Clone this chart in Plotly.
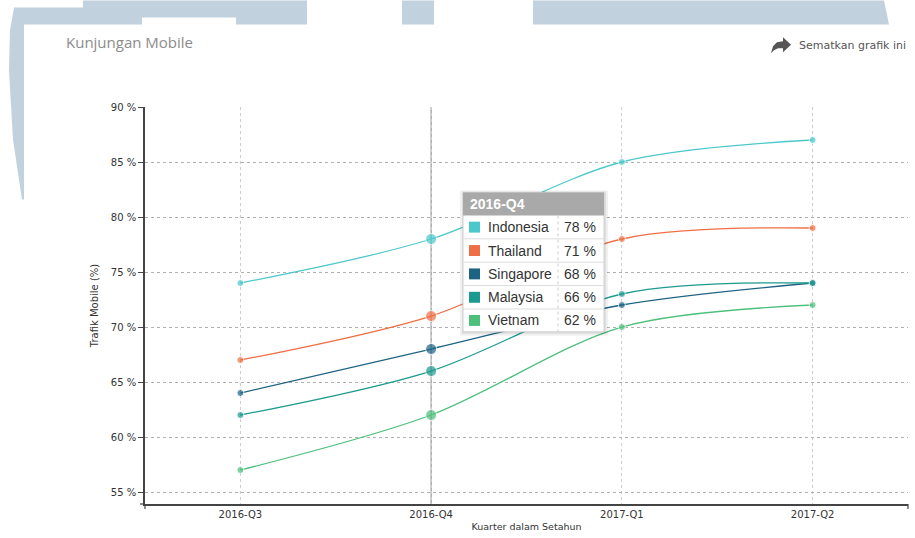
import plotly.graph_objects as go

# ---------------- data ----------------
quarters = ["2016-Q3", "2016-Q4", "2017-Q1", "2017-Q2"]
countries = ["Indonesia", "Thailand", "Singapore", "Malaysia", "Vietnam"]
indonesia = [74, 78, 85, 87]
thailand = [67, 71, 78, 79]
singapore = [64, 68, 72, 74]
malaysia = [62, 66, 73, 74]
vietnam = [57, 62, 70, 72]
series = [indonesia, thailand, singapore, malaysia, vietnam]
colors = ["#4cc8cc", "#f06e45", "#1d6383", "#1b9b8f", "#4dc07c"]
y_ticks = [55, 60, 65, 70, 75, 80, 85, 90]
hover_idx = 1  # highlighted quarter (2016-Q4)

# ---------------- geometry helpers ----------------
W, H = 915, 538
L, R, T, B = 145, 7, 107, 32
PW, PH = W - L - R, H - T - B


def px(x):
    return (x - L) / PW


def py(y):
    return 1 - (y - T) / PH


fig = go.Figure()

for name, vals, col in zip(countries, series, colors):
    sizes = [11 if i == hover_idx else 7 for i in range(len(vals))]
    fig.add_trace(go.Scatter(
        x=quarters, y=vals, name=name, mode="lines+markers",
        line=dict(color=col, width=1.3, shape="spline", smoothing=0.9),
        marker=dict(color=col, size=sizes),
        hoverinfo="skip", showlegend=False,
    ))

shapes = []
annotations = []

# ---------- background watermark shapes ----------
wm = "#c1d1de"


def poly(points, color):
    d = "M " + " L ".join(f"{px(x):.5f},{py(y):.5f}" for x, y in points) + " Z"
    return dict(type="path", path=d, xref="paper", yref="paper",
                fillcolor=color, line=dict(width=0), layer="below")


shapes.append(poly([(14, 7), (83, 7), (83, 0), (307, 0), (307, 24), (236, 24),
                    (236, 17), (142, 17), (142, 24), (24, 24), (24, 200),
                    (22, 200), (13, 140), (9, 70), (10, 30)], wm))
shapes.append(poly([(402, 0), (434, 0), (434, 24), (402, 24)], wm))
shapes.append(poly([(533, 0), (884, 0), (889, 24), (533, 24)], wm))

# share arrow icon
arrow = [(771, 53), (773, 46), (777, 42), (783, 41), (783, 37), (791, 44.5),
         (783, 52), (783, 48), (778, 48), (774, 50)]
shapes.append(poly(arrow, "#555555"))

# crosshair at hovered quarter (below the series)
shapes.append(dict(type="line", xref="x", yref="paper", x0=hover_idx, x1=hover_idx,
                   y0=0, y1=1, line=dict(color="#808080", width=1), layer="below"))

# domain end ticks
for xx in (145, 908):
    shapes.append(dict(type="line", xref="paper", yref="paper", x0=px(xx), x1=px(xx),
                       y0=py(506), y1=py(511), line=dict(color="#444", width=1.2)))
shapes.append(dict(type="line", xref="paper", yref="paper", x0=px(140), x1=px(145),
                   y0=py(506), y1=py(506), line=dict(color="#444", width=1.2)))

# ---------- tooltip ----------
tx0, tx1, ty0, ty1 = 463, 604, 193, 333
head_b = 216
row_edges = [216, 239.5, 263, 286.5, 310, 333]
shapes.append(dict(type="rect", xref="paper", yref="paper", x0=px(tx0 - 3), x1=px(tx1 + 4),
                   y0=py(ty0 - 2), y1=py(ty1 + 4), fillcolor="rgba(0,0,0,0.06)",
                   line=dict(width=0)))
shapes.append(dict(type="rect", xref="paper", yref="paper", x0=px(tx0 - 1), x1=px(tx1 + 2),
                   y0=py(ty0 - 1), y1=py(ty1 + 2), fillcolor="rgba(0,0,0,0.07)",
                   line=dict(width=0)))
shapes.append(dict(type="rect", xref="paper", yref="paper", x0=px(tx0), x1=px(tx1),
                   y0=py(ty0), y1=py(ty1), fillcolor="white",
                   line=dict(color="#d0d0d0", width=1)))
shapes.append(dict(type="rect", xref="paper", yref="paper", x0=px(tx0), x1=px(tx1),
                   y0=py(ty0), y1=py(head_b), fillcolor="#a9a9a9",
                   line=dict(width=0)))
for e in row_edges[1:-1]:
    shapes.append(dict(type="line", xref="paper", yref="paper", x0=px(tx0), x1=px(tx1),
                       y0=py(e), y1=py(e), line=dict(color="#dddddd", width=1)))
shapes.append(dict(type="line", xref="paper", yref="paper", x0=px(558), x1=px(558),
                   y0=py(head_b), y1=py(ty1), line=dict(color="#cccccc", width=1, dash="dot")))

annotations.append(dict(text="<b>" + quarters[hover_idx] + "</b>", xref="paper", yref="paper",
                        x=px(468), y=py(204.5), xanchor="left", yanchor="middle",
                        showarrow=False, font=dict(family="Liberation Sans", size=14,
                                                   color="white")))
for i, (name, vals, col) in enumerate(zip(countries, series, colors)):
    cy = (row_edges[i] + row_edges[i + 1]) / 2
    shapes.append(dict(type="rect", xref="paper", yref="paper", x0=px(469), x1=px(480),
                       y0=py(cy - 5.5), y1=py(cy + 5.5), fillcolor=col, line=dict(width=0)))
    annotations.append(dict(text=name, xref="paper", yref="paper", x=px(486), y=py(cy),
                            xanchor="left", yanchor="middle", showarrow=False,
                            font=dict(family="Liberation Sans", size=14, color="#333")))
    annotations.append(dict(text=f"{vals[hover_idx]} %", xref="paper", yref="paper",
                            x=px(598), y=py(cy), xanchor="right", yanchor="middle",
                            showarrow=False,
                            font=dict(family="Liberation Sans", size=14, color="#333")))

# ---------- page texts ----------
annotations.append(dict(text="Kunjungan Mobile", xref="paper", yref="paper",
                        x=px(64), y=py(42), xanchor="left", yanchor="middle",
                        showarrow=False,
                        font=dict(family="Open Sans", size=15, color="#8c8c8c")))
annotations.append(dict(text="Sematkan grafik ini", xref="paper", yref="paper",
                        x=px(797), y=py(45), xanchor="left", yanchor="middle",
                        showarrow=False,
                        font=dict(family="DejaVu Sans", size=11, color="#555")))

fig.update_layout(
    width=W, height=H,
    margin=dict(l=L, r=R, t=T, b=B),
    paper_bgcolor="white", plot_bgcolor="white",
    shapes=shapes, annotations=annotations,
    font=dict(family="DejaVu Sans", size=10, color="#333"),
    xaxis=dict(
        range=[-0.5, 3.5], showline=True, linecolor="#444", linewidth=1.5,
        showgrid=True, gridcolor="#cccccc", griddash="dot", gridwidth=1,
        ticks="", zeroline=False,
        tickfont=dict(family="DejaVu Sans", size=10, color="#333"),
        title=dict(text="Kuarter dalam Setahun", standoff=5,
                   font=dict(family="DejaVu Sans", size=9.5, color="#333")),
    ),
    yaxis=dict(
        range=[53.91, 90], showline=True, linecolor="#444", linewidth=1.5,
        showgrid=True, gridcolor="#b0b0b0", griddash="3px,3px", gridwidth=1,
        tickvals=y_ticks, ticktext=[f"{v} %" for v in y_ticks],
        ticks="outside", ticklen=5, tickcolor="#444", zeroline=False,
        tickfont=dict(family="DejaVu Sans", size=10, color="#333"),
        title=dict(text="Trafik Mobile (%)", standoff=10,
                   font=dict(family="DejaVu Sans", size=10, color="#333")),
    ),
)

fig.write_html("out.html")
